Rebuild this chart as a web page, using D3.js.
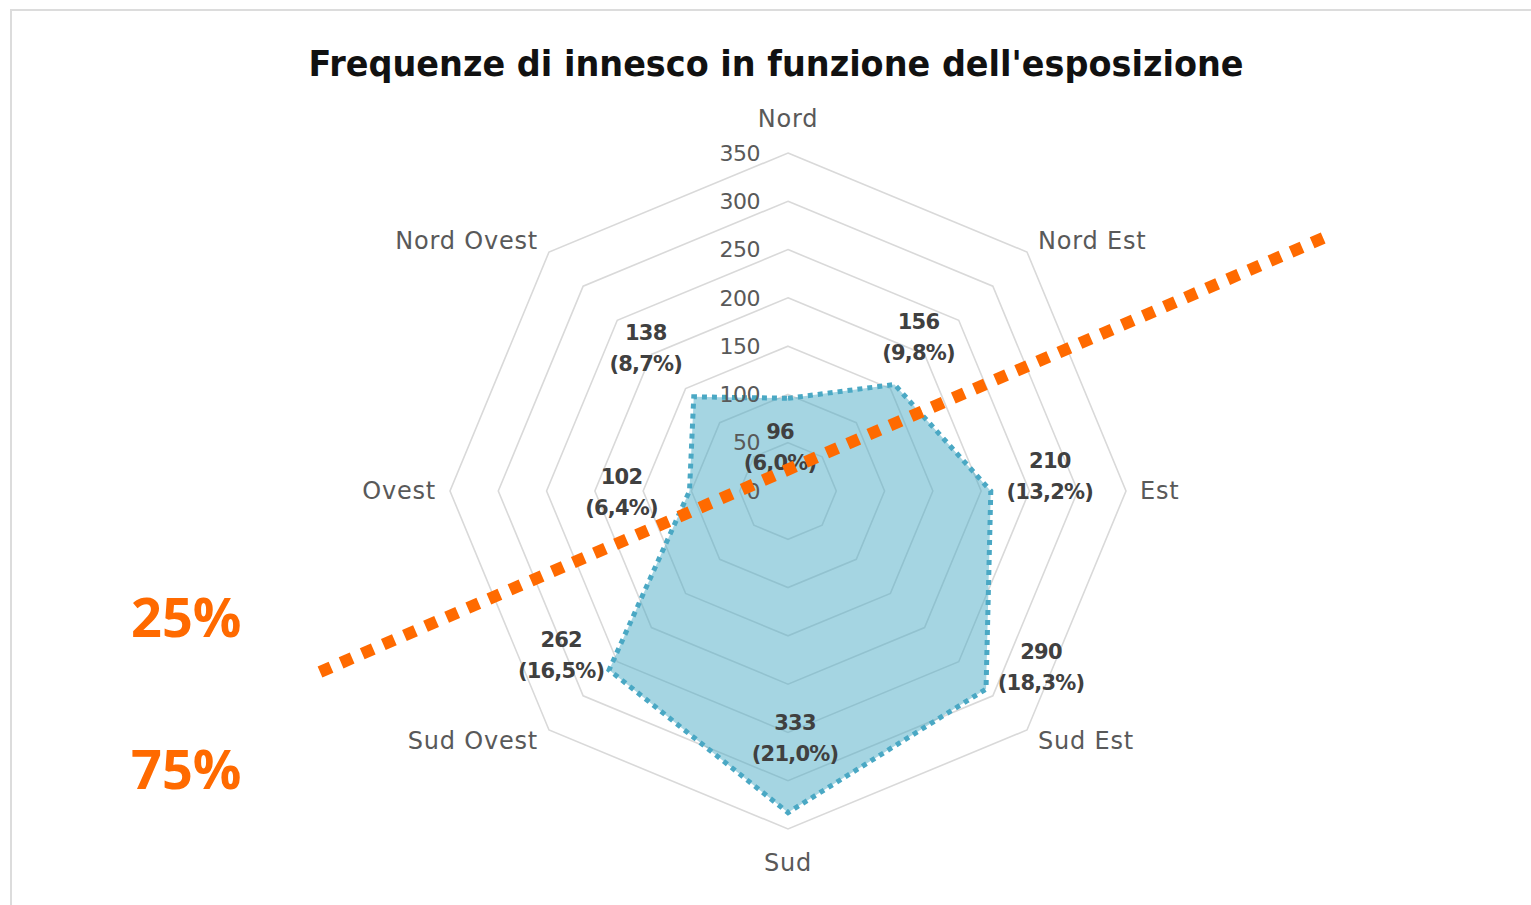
<!DOCTYPE html>
<html>
<head>
<meta charset="utf-8">
<script src="https://cdn.jsdelivr.net/npm/d3@7"></script>
<style>
  html, body { margin: 0; padding: 0; background: #fff; }
  svg { display: block; }
</style>
</head>
<body>
<div id="chart"></div>
<script>
// data
const categories = ['Nord', 'Nord Est', 'Est', 'Sud Est', 'Sud', 'Sud Ovest', 'Ovest', 'Nord Ovest'];
const values = [96, 156, 210, 290, 333, 262, 102, 138];
const percentLabels = ['6,0%', '9,8%', '13,2%', '18,3%', '21,0%', '16,5%', '6,4%', '8,7%'];
const ticks = [0, 50, 100, 150, 200, 250, 300, 350];
const splitLabels = ['25%', '75%'];

const width = 1531, height = 905;
const cx = 788, cy = 491, radius = 338;

const svg = d3.select('#chart').append('svg')
  .attr('width', width)
  .attr('height', height);

// frame (only top/left visible in the crop)
svg.append('path')
  .attr('d', `M11,${height + 5} L11,10 L${width + 5},10`)
  .attr('fill', 'none')
  .attr('stroke', '#dcdcdc')
  .attr('stroke-width', 2);

// title
svg.append('text')
  .attr('x', 776)
  .attr('y', 76)
  .attr('text-anchor', 'middle')
  .attr('textLength', 935)
  .attr('lengthAdjust', 'spacingAndGlyphs')
  .style('font-family', 'DejaVu Sans, sans-serif')
  .style('font-size', '36px')
  .style('font-weight', 'bold')
  .attr('fill', '#111')
  .text("Frequenze di innesco in funzione dell'esposizione");

const r = d3.scaleLinear().domain([0, 350]).range([0, radius]);
const angle = d3.scaleLinear().domain([0, categories.length]).range([0, 2 * Math.PI]);

const g = svg.append('g').attr('transform', `translate(${cx},${cy})`);

// ring grid
const ring = d3.lineRadial()
  .angle((_, i) => angle(i))
  .curve(d3.curveLinearClosed);

g.selectAll('path.ring')
  .data(ticks.filter(t => t > 0))
  .join('path')
  .attr('class', 'ring')
  .attr('d', t => ring.radius(r(t))(categories))
  .attr('fill', 'none')
  .attr('stroke', '#d9d9d9')
  .attr('stroke-width', 1.6);

// series
const area = d3.lineRadial()
  .angle((_, i) => angle(i))
  .radius(d => r(d))
  .curve(d3.curveLinearClosed);

g.append('path')
  .attr('d', area(values))
  .attr('fill', '#4bacc6')
  .attr('fill-opacity', 0.5)
  .attr('stroke', '#4aa8c4')
  .attr('stroke-width', 5)
  .attr('stroke-dasharray', '5 5');

// tick labels along the north axis
g.selectAll('text.tick')
  .data(ticks)
  .join('text')
  .attr('class', 'tick')
  .attr('x', -28)
  .attr('y', t => -r(t))
  .attr('dy', '0.35em')
  .attr('text-anchor', 'end')
  .style('font-family', 'DejaVu Sans, sans-serif')
  .style('font-size', '22px')
  .style('letter-spacing', '-0.5px')
  .attr('fill', '#595959')
  .text(t => t);

// category labels: box around the outer ring
const catX = 352, catY = 372, diag = 250;
const catPos = i => {
  const s = Math.sign(Math.round(Math.sin(angle(i)) * 1000));
  const c = Math.sign(Math.round(Math.cos(angle(i)) * 1000));
  if (i % 2) return [s * diag, -c * diag];
  return [s * catX, -c * catY];
};

g.selectAll('text.cat')
  .data(categories)
  .join('text')
  .attr('class', 'cat')
  .attr('x', (_, i) => catPos(i)[0])
  .attr('y', (_, i) => catPos(i)[1])
  .attr('dy', '0.35em')
  .attr('text-anchor', (_, i) => i % 4 === 0 ? 'middle' : (i < 4 ? 'start' : 'end'))
  .style('font-family', 'DejaVu Sans, sans-serif')
  .style('font-size', '24px')
  .style('letter-spacing', '0.8px')
  .attr('fill', '#595959')
  .text(d => d);

// data label nudges (layout, px) relative to each point
const labelNudge = [[-8, 33], [24, -63], [59, -30], [55, -37], [7, -90], [-48, -30], [-68, -14], [-48, -64]];
const pt = (v, i) => [Math.sin(angle(i)) * r(v), -Math.cos(angle(i)) * r(v)];

const dl = g.selectAll('text.dl')
  .data(values)
  .join('text')
  .attr('class', 'dl')
  .attr('text-anchor', 'middle')
  .style('font-family', 'DejaVu Sans, sans-serif')
  .style('font-size', '21px')
  .style('font-weight', 'bold')
  .style('letter-spacing', '-0.8px')
  .attr('fill', '#404040');

dl.append('tspan')
  .attr('x', (v, i) => pt(v, i)[0] + labelNudge[i][0])
  .attr('y', (v, i) => pt(v, i)[1] + labelNudge[i][1])
  .attr('dy', '0.35em')
  .text(v => v);

dl.append('tspan')
  .attr('x', (v, i) => pt(v, i)[0] + labelNudge[i][0])
  .attr('y', (v, i) => pt(v, i)[1] + labelNudge[i][1] + 31)
  .attr('dy', '0.35em')
  .text((v, i) => `(${percentLabels[i]})`);

// orange split annotation
svg.append('line')
  .attr('x1', 320).attr('y1', 672)
  .attr('x2', 1328).attr('y2', 236)
  .attr('stroke', '#ff6a00')
  .attr('stroke-width', 12)
  .attr('stroke-dasharray', '12 11');

svg.selectAll('text.split')
  .data(splitLabels)
  .join('text')
  .attr('class', 'split')
  .attr('x', 131)
  .attr('y', (_, i) => 637 + i * 152)
  .style('font-family', 'Open Sans, sans-serif')
  .style('font-size', '54px')
  .style('font-weight', 'bold')
  .attr('fill', '#ff6a00')
  .text(d => d);
</script>
</body>
</html>
